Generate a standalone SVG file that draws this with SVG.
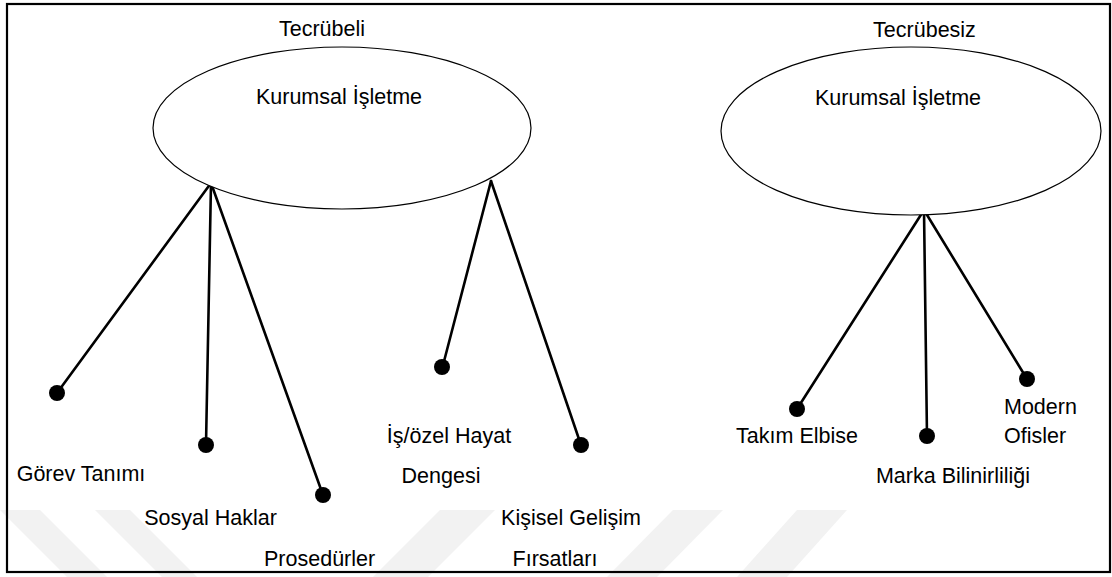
<svg xmlns="http://www.w3.org/2000/svg" width="1112" height="577" viewBox="0 0 1112 577">
  <style>
    .lbl { font-family: "Liberation Sans", Arial, sans-serif; font-size: 21.5px; fill: #000; }
    .mid { text-anchor: middle; }
    .oval { fill: #fff; stroke: #000; stroke-width: 1.2; }
    .edge { stroke: #000; stroke-width: 2.6; fill: none; stroke-linecap: round; }
    .dot { fill: #000; }
    .wm { fill: #f2f2f2; }
  </style>

  <rect x="0" y="0" width="1112" height="577" fill="#fff"/>

  <!-- faint background stripes -->
  <g id="background-stripes">
    <polygon class="wm" points="0,510 40,510 107,577 67,577"/>
    <polygon class="wm" points="95,510 130,510 197,577 162,577"/>
    <polygon class="wm" points="440,510 495,510 428,577 373,577"/>
    <polygon class="wm" points="673,510 723,510 657,577 607,577"/>
    <polygon class="wm" points="797,510 847,510 787,577 737,577"/>
  </g>

  <!-- outer frame -->
  <rect x="7" y="4" width="1103" height="568" fill="none" stroke="#000" stroke-width="2.2"/>

  <!-- connectors -->
  <g id="connectors">
    <line class="edge" x1="211" y1="183" x2="57" y2="393"/>
    <line class="edge" x1="211" y1="183" x2="206" y2="445"/>
    <line class="edge" x1="211" y1="183" x2="323" y2="495"/>
    <line class="edge" x1="491" y1="181" x2="442" y2="369"/>
    <line class="edge" x1="491" y1="181" x2="581" y2="445"/>
    <line class="edge" x1="924" y1="210" x2="797" y2="409"/>
    <line class="edge" x1="924" y1="210" x2="927" y2="436"/>
    <line class="edge" x1="924" y1="210" x2="1027" y2="379"/>
  </g>

  <!-- experienced group -->
  <g id="node-tecrubeli">
    <text class="lbl mid" x="322" y="36">Tecrübeli</text>
    <ellipse class="oval" cx="342" cy="128" rx="189" ry="81"/>
    <text class="lbl mid" x="339" y="104">Kurumsal İşletme</text>
  </g>

  <g id="node-gorev-tanimi">
    <circle class="dot" cx="57" cy="393" r="8"/>
    <text class="lbl mid" x="81" y="481">Görev Tanımı</text>
  </g>

  <g id="node-sosyal-haklar">
    <circle class="dot" cx="206" cy="445" r="8"/>
    <text class="lbl mid" x="210.5" y="525">Sosyal Haklar</text>
  </g>

  <g id="node-prosedurler">
    <circle class="dot" cx="323" cy="495" r="8"/>
    <text class="lbl mid" x="319.6" y="566">Prosedürler</text>
  </g>

  <g id="node-is-ozel-hayat">
    <circle class="dot" cx="442" cy="367" r="8"/>
    <text class="lbl mid" x="449" y="443">İş/özel Hayat</text>
    <text class="lbl mid" x="441" y="483">Dengesi</text>
  </g>

  <g id="node-kisisel-gelisim">
    <circle class="dot" cx="581" cy="445" r="8"/>
    <text class="lbl mid" x="571" y="525">Kişisel Gelişim</text>
    <text class="lbl mid" x="555" y="566">Fırsatları</text>
  </g>

  <!-- inexperienced group -->
  <g id="node-tecrubesiz">
    <text class="lbl mid" x="924.5" y="37">Tecrübesiz</text>
    <ellipse class="oval" cx="911" cy="131" rx="190" ry="84"/>
    <text class="lbl mid" x="898" y="105">Kurumsal İşletme</text>
  </g>

  <g id="node-takim-elbise">
    <circle class="dot" cx="797" cy="409" r="8"/>
    <text class="lbl mid" x="797" y="443">Takım Elbise</text>
  </g>

  <g id="node-marka">
    <circle class="dot" cx="927" cy="436" r="8"/>
    <text class="lbl mid" x="953" y="483">Marka Bilinirliliği</text>
  </g>

  <g id="node-modern-ofisler">
    <circle class="dot" cx="1027" cy="379" r="8"/>
    <text class="lbl" x="1004" y="414">Modern</text>
    <text class="lbl" x="1004" y="443">Ofisler</text>
  </g>
</svg>
